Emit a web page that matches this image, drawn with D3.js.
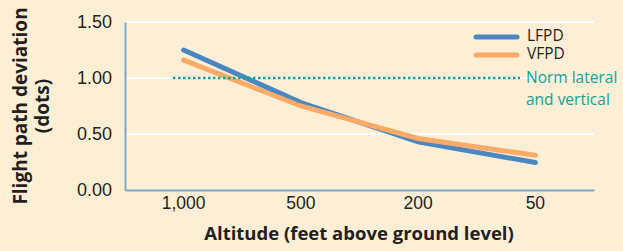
<!DOCTYPE html>
<html>
<head>
<meta charset="utf-8">
<script src="https://cdn.jsdelivr.net/npm/d3@7"></script>
<style>
  body { margin: 0; background: #fdefd6; }
  svg { display: block; font-family: "Open Sans", "Noto Sans", sans-serif; }
</style>
</head>
<body>
<div id="chart"></div>
<script>
// chart data
const altitudes = ["1,000", "500", "200", "50"];
const lfpd = [1.25, 0.78, 0.43, 0.245];
const vfpd = [1.16, 0.75, 0.46, 0.31];
const yTicks = [0, 0.5, 1.0, 1.5];
const normValue = 1.0;
const seriesNames = ["LFPD", "VFPD"];

const width = 623, height = 251;
const plotLeft = 125, plotRight = 594, plotTop = 22, plotBottom = 190;

const svg = d3.select('#chart').append('svg')
  .attr('width', width)
  .attr('height', height);

svg.append('rect').attr('width', width).attr('height', height).attr('fill', '#fdefd6');

const x = d3.scaleBand().domain(altitudes).range([plotLeft, plotRight]);
const y = d3.scaleLinear().domain([0, 1.5]).range([plotBottom, plotTop]);

// gridlines
svg.append('g').selectAll('line')
  .data(yTicks.filter(d => d > 0))
  .join('line')
  .attr('x1', plotLeft).attr('x2', plotRight)
  .attr('y1', d => y(d)).attr('y2', d => y(d))
  .attr('stroke', '#ffffff').attr('stroke-width', 2);

// y axis
const yAxis = svg.append('g')
  .attr('transform', `translate(${plotLeft},0)`)
  .call(d3.axisLeft(y).tickValues(yTicks).tickFormat(d3.format('.2f')).tickSize(0).tickPadding(13));
yAxis.select('.domain').attr('stroke', '#7aa6cf').attr('stroke-width', 2);
yAxis.selectAll('text').attr('font-size', 18).attr('fill', '#231f20');

// x axis
const xAxis = svg.append('g')
  .attr('transform', `translate(0,${plotBottom})`)
  .call(d3.axisBottom(x).tickSize(0).tickPadding(7));
xAxis.select('.domain').attr('stroke', '#7aa6cf').attr('stroke-width', 2);
xAxis.selectAll('text').attr('font-size', 17.5).attr('fill', '#231f20');

const line = d3.line()
  .x((d, i) => x(altitudes[i]) + x.bandwidth() / 2)
  .y(d => y(d));

svg.append('path').datum(lfpd)
  .attr('d', line)
  .attr('fill', 'none').attr('stroke', '#4a87c0')
  .attr('stroke-width', 5).attr('stroke-linecap', 'round');

svg.append('path').datum(vfpd)
  .attr('d', line)
  .attr('fill', 'none').attr('stroke', '#fbaa68')
  .attr('stroke-width', 5).attr('stroke-linecap', 'round');

// norm dotted line, drawn over the series
svg.append('line')
  .attr('x1', 173).attr('x2', 520)
  .attr('y1', y(normValue)).attr('y2', y(normValue))
  .attr('stroke', '#17a193').attr('stroke-width', 2.5)
  .attr('stroke-dasharray', '2.5,2.5');

// legend
const legColors = ['#4a87c0', '#fbaa68'];
const leg = svg.append('g');
seriesNames.forEach((name, i) => {
  leg.append('line')
    .attr('x1', 476).attr('x2', 517)
    .attr('y1', 37 + i * 18).attr('y2', 37 + i * 18)
    .attr('stroke', legColors[i]).attr('stroke-width', 5).attr('stroke-linecap', 'round');
  leg.append('text')
    .attr('x', 527).attr('y', 41 + i * 18)
    .attr('font-size', 15.5).attr('fill', '#231f20')
    .text(name);
});

svg.append('text')
  .attr('x', 526).attr('y', 83)
  .attr('font-size', 15.5).attr('fill', '#17a193')
  .text('Norm lateral');
svg.append('text')
  .attr('x', 526).attr('y', 105)
  .attr('font-size', 15.5).attr('fill', '#17a193')
  .text('and vertical');

// axis titles
svg.append('text')
  .attr('transform', 'translate(27,106) rotate(-90)')
  .attr('text-anchor', 'middle')
  .attr('font-size', 19).attr('font-weight', 'bold').attr('fill', '#231f20')
  .text('Flight path deviation');
svg.append('text')
  .attr('transform', 'translate(49,106) rotate(-90)')
  .attr('text-anchor', 'middle')
  .attr('font-size', 19).attr('font-weight', 'bold').attr('fill', '#231f20')
  .text('(dots)');

svg.append('text')
  .attr('x', 359).attr('y', 240)
  .attr('text-anchor', 'middle')
  .attr('font-size', 18.5).attr('font-weight', 'bold').attr('fill', '#231f20')
  .text('Altitude (feet above ground level)');
</script>
</body>
</html>
